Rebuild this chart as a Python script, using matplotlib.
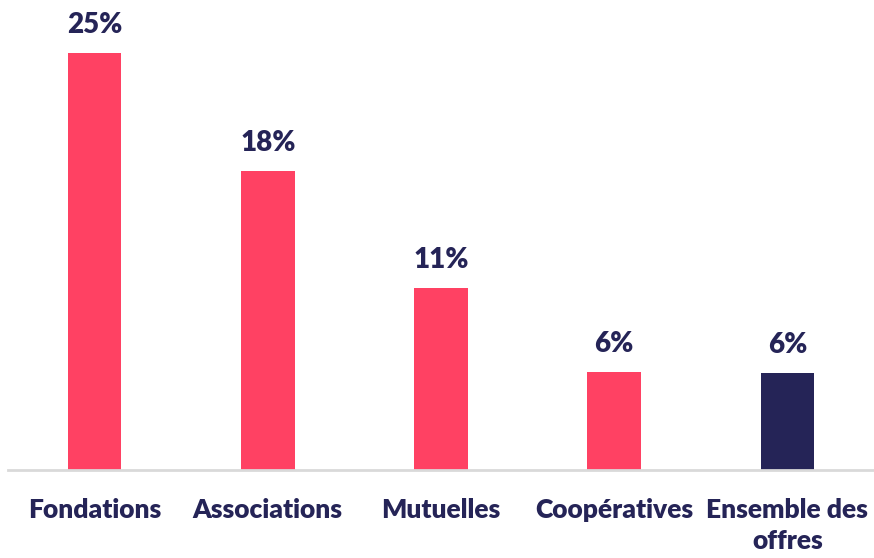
import matplotlib
matplotlib.use("Agg")
import matplotlib.pyplot as plt

categories = ["Fondations", "Associations", "Mutuelles", "Coopératives", "Ensemble des\noffres"]
values = [25.0, 17.9, 10.9, 5.85, 5.8]
labels = ["25%", "18%", "11%", "6%", "6%"]
pink = "#FF4163"
navy = "#252457"
colors = [pink, pink, pink, pink, navy]

plt.rcParams["font.family"] = ["Lato", "DejaVu Sans"]

fig = plt.figure(figsize=(8.74, 5.58), dpi=100)
ax = fig.add_axes([8 / 874, 1 - 470 / 558, 866 / 874, 460 / 558])

x = list(range(len(categories)))
bars = ax.bar(x, values, width=0.31, color=colors)

# value labels above bars
for xi, v, lab in zip(x, values, labels):
    ax.annotate(lab, xy=(xi, v), xytext=(0, 11), textcoords="offset points",
                ha="center", va="bottom", fontsize=20, fontweight="heavy", color=navy)

ax.set_xlim(-0.5, 4.5)
ax.set_ylim(0, 25 * 460 / 417)
ax.set_xticks(x)
ax.set_xticklabels(categories, fontsize=19, fontweight="heavy", color=navy, linespacing=1.35)
ax.tick_params(axis="x", length=0, pad=20)
ax.set_yticks([])
for s in ["top", "right", "left"]:
    ax.spines[s].set_visible(False)
ax.spines["bottom"].set_color("#D9D9D9")
ax.spines["bottom"].set_linewidth(2)

plt.savefig("out.png", dpi=100)
